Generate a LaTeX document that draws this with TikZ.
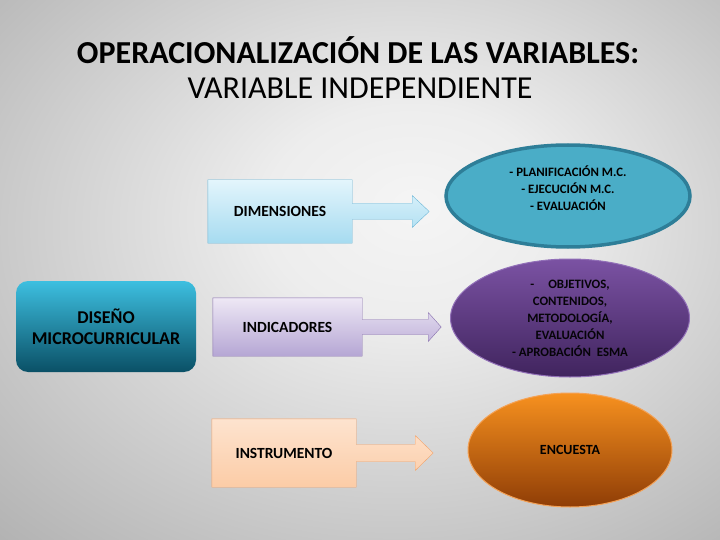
\documentclass[tikz,border=0pt]{standalone}
\usepackage{fontspec}
\setmainfont{Carlito}
\usetikzlibrary{shapes.geometric}

\definecolor{disenotop}{HTML}{3DBFE0}
\definecolor{disenobot}{HTML}{0A5066}
\definecolor{dimtop}{HTML}{E3F5FC}
\definecolor{dimbot}{HTML}{A6DBF0}
\definecolor{dimedge}{HTML}{6CB6D6}
\definecolor{indtop}{HTML}{EEE8F5}
\definecolor{indbot}{HTML}{B5A6D4}
\definecolor{indedge}{HTML}{8870AE}
\definecolor{instop}{HTML}{FDE3CF}
\definecolor{insbot}{HTML}{FCCCA6}
\definecolor{insedge}{HTML}{F2A36B}
\definecolor{planfill}{HTML}{4AADC7}
\definecolor{planedge}{HTML}{2E7E98}
\definecolor{objtop}{HTML}{7B52A3}
\definecolor{objbot}{HTML}{40245E}
\definecolor{objedge}{HTML}{9270B8}
\definecolor{enctop}{HTML}{F7911F}
\definecolor{encbot}{HTML}{8F3D06}
\definecolor{encedge}{HTML}{F4A257}

\pgfdeclareradialshading{slide}{\pgfpoint{4bp}{6bp}}{color(0bp)=(white!96!black); color(10bp)=(white!93!black); color(25bp)=(white!81!black); color(40bp)=(white!69!black); color(50bp)=(white!63!black); color(72bp)=(white!53!black)}

\pgfdeclarelayer{back}
\pgfdeclarelayer{behind}
\pgfsetlayers{back,behind,main}

\begin{document}
\begin{tikzpicture}[x=1pt, y=-1pt,
    heading/.style = {font=\fontsize{32}{38}\selectfont},
    callbox/.style = {minimum width=144pt, minimum height=63pt, font=\bfseries\fontsize{15.5}{18}\selectfont},
    oval/.style = {ellipse, inner sep=0pt},
    ovaltext/.style = {align=center, font=\bfseries\fontsize{12.8}{17}\selectfont}]
    \node[heading, font=\bfseries\fontsize{32}{38}\selectfont] (title) at (358,50) {OPERACIONALIZACIÓN DE LAS VARIABLES:};
    \node[heading] (subtitle) at (360,88) {VARIABLE INDEPENDIENTE};

    \node[rounded corners=12pt, top color=disenotop, bottom color=disenobot,
          minimum width=180pt, minimum height=91pt, align=center,
          font=\bfseries\fontsize{18}{21}\selectfont] (dis) at (106,326.5) {DISEÑO\\MICROCURRICULAR};

    \node[callbox] (dim) at (280,211.5) {DIMENSIONES};
    \node[callbox, minimum width=149pt, minimum height=58pt] (ind) at (287.5,327) {INDICADORES};
    \node[callbox, minimum height=68pt] (ins) at (284,453) {INSTRUMENTO};

    \node[oval, fill=planfill, draw=planedge, line width=3.5pt, minimum width=244pt, minimum height=102pt] (plan) at (568,196) {};
    \node[ovaltext] (plantext) at (568,188) {- PLANIFICACIÓN M.C.\\- EJECUCIÓN M.C.\\- EVALUACIÓN};
    \node[oval, ovaltext, top color=objtop, bottom color=objbot, draw=objedge, line width=1pt,
          minimum width=239pt, minimum height=118pt, text=black!90!objbot] (obj) at (570,318)
          {-\hspace{14pt}OBJETIVOS,\\CONTENIDOS,\\METODOLOGÍA,\\EVALUACIÓN\\- APROBACIÓN\ \ ESMA};
    \node[oval, ovaltext, font=\bfseries\fontsize{14}{17}\selectfont, top color=enctop, bottom color=encbot,
          draw=encedge, line width=1pt, minimum width=204pt, minimum height=114pt] (enc) at (570,450) {ENCUESTA};

    % callout arrows behind the box texts
    \begin{pgfonlayer}{behind}
    \draw[dimedge, top color=dimtop, bottom color=dimbot] (dim.north west) -- (dim.north east) -- ([yshift=8pt]dim.east)
        -- ++(60pt,0) -- ++(0,8pt) -- ++(17pt,-16pt) -- ++(-17pt,-16pt) -- ++(0,8pt)
        -- ([yshift=-8pt]dim.east) -- (dim.south east) -- (dim.south west) -- cycle;
    \draw[indedge, top color=indtop, bottom color=indbot] (ind.north west) -- (ind.north east) -- ([yshift=7.5pt]ind.east)
        -- ++(66pt,0) -- ++(0,7pt) -- ++(13pt,-14.5pt) -- ++(-13pt,-14.5pt) -- ++(0,7pt)
        -- ([yshift=-7.5pt]ind.east) -- (ind.south east) -- (ind.south west) -- cycle;
    \draw[insedge, top color=instop, bottom color=insbot] (ins.north west) -- (ins.north east) -- ([yshift=8.5pt]ins.east)
        -- ++(59pt,0) -- ++(0,9pt) -- ++(18pt,-17.5pt) -- ++(-18pt,-17.5pt) -- ++(0,9pt)
        -- ([yshift=-8.5pt]ins.east) -- (ins.south east) -- (ins.south west) -- cycle;
    \end{pgfonlayer}

    \begin{pgfonlayer}{back}
    \shade[shading=slide] (0,0) rectangle (720,540);
    \end{pgfonlayer}
    \useasboundingbox (0,0) rectangle (720,540);
\end{tikzpicture}
\end{document}
